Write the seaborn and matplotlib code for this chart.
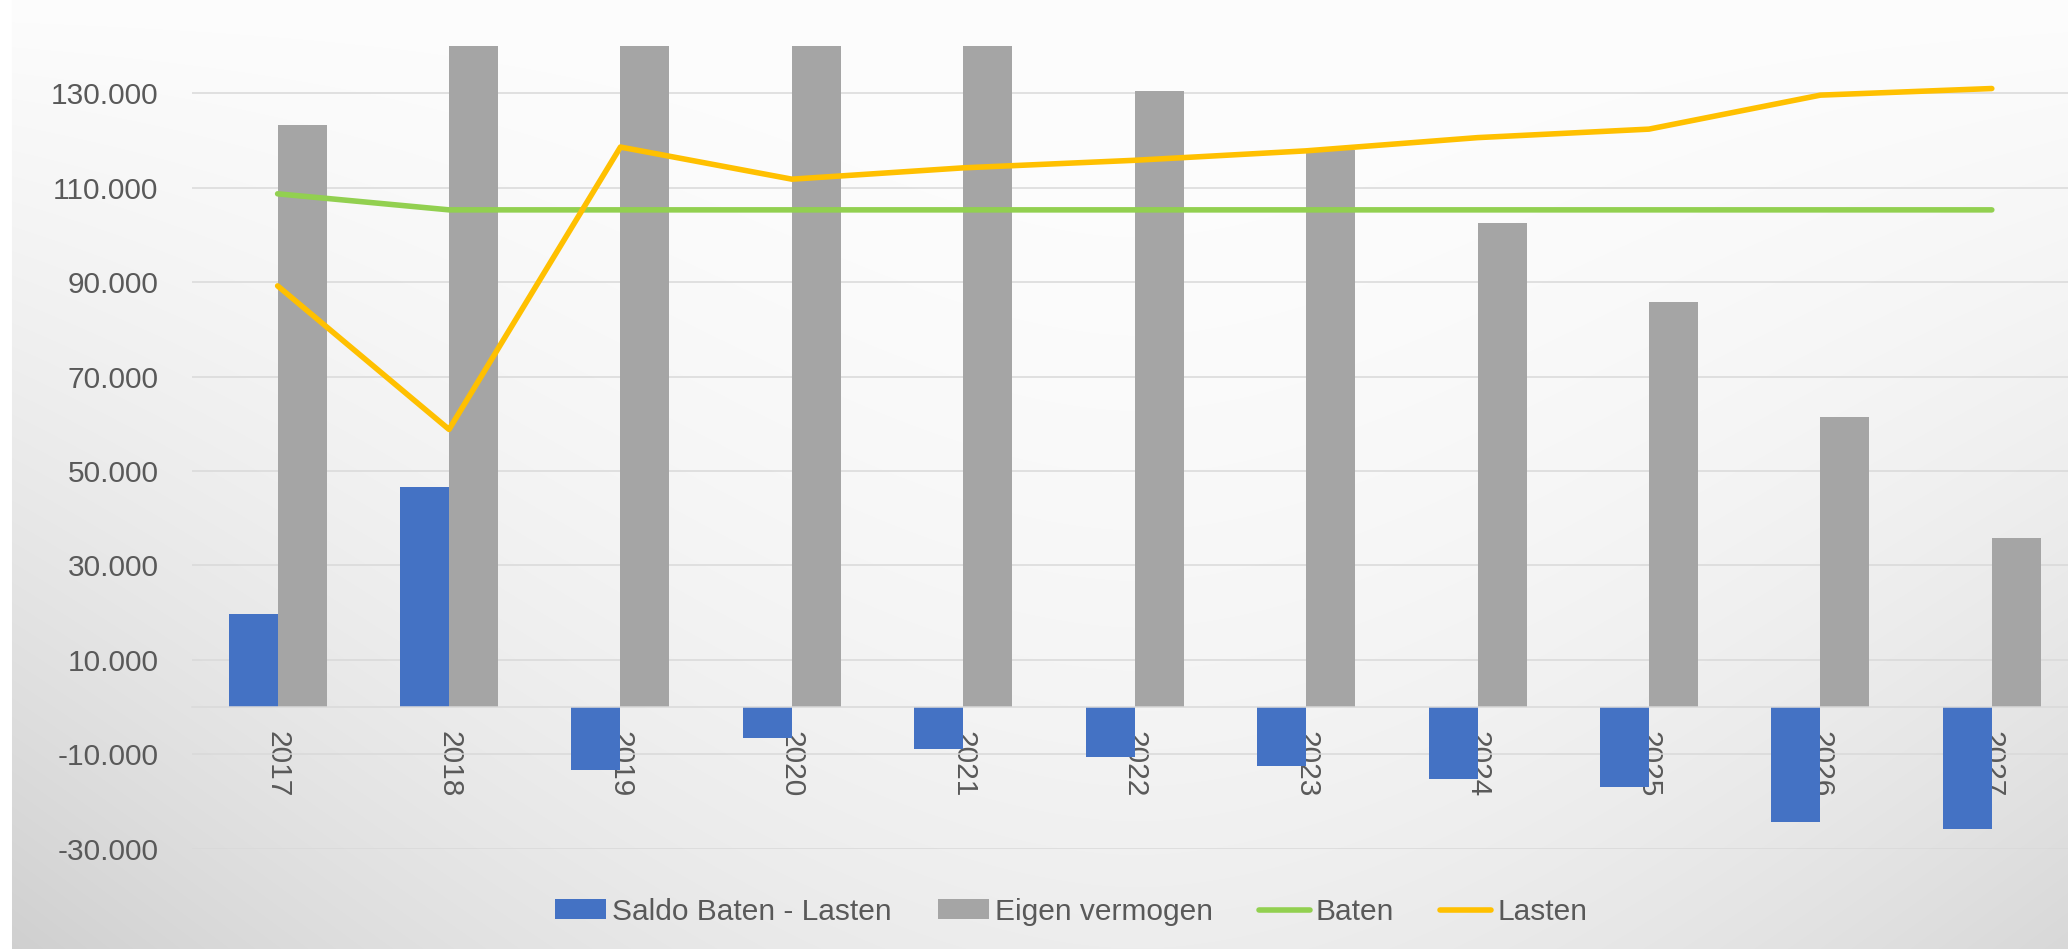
import numpy as np
import pandas as pd
import matplotlib
matplotlib.use("Agg")
import matplotlib.pyplot as plt
import seaborn as sns
from matplotlib import font_manager
from matplotlib.ticker import FuncFormatter
from matplotlib.patches import Patch
from matplotlib.lines import Line2D

# data
jaren = ["2017", "2018", "2019", "2020", "2021", "2022", "2023", "2024", "2025", "2026", "2027"]
saldo = [19800, 46500, -13400, -6500, -8800, -10600, -12400, -15300, -17000, -24300, -25800]
eigen_vermogen = [123300, 169800, 156300, 149800, 141000, 130400, 118000, 102600, 85700, 61500, 35700]
baten = [108700, 105300, 105300, 105300, 105300, 105300, 105300, 105300, 105300, 105300, 105300]
lasten = [89200, 58800, 118600, 111800, 114200, 115800, 117800, 120600, 122400, 129600, 131000]

y_ticks = list(range(-30000, 140000, 20000))

bar_names = ["Saldo Baten - Lasten", "Eigen vermogen"]
line_names = ["Baten", "Lasten"]
kleuren = {"Saldo Baten - Lasten": "#4472C4", "Eigen vermogen": "#A5A5A5",
           "Baten": "#92D050", "Lasten": "#FFC000"}
tekst = "#595959"
grid_kleur = "#D9D9D9"

bars_df = pd.DataFrame({
    "jaar": jaren * 2,
    "waarde": saldo + eigen_vermogen,
    "reeks": [bar_names[0]] * len(jaren) + [bar_names[1]] * len(jaren),
})
lines_df = pd.DataFrame({
    "pos": list(range(len(jaren))) * 2,
    "waarde": baten + lasten,
    "reeks": [line_names[0]] * len(jaren) + [line_names[1]] * len(jaren),
})

sns.set_theme(style="white")
names = {f.name for f in font_manager.fontManager.ttflist}
fam = "Liberation Sans" if "Liberation Sans" in names else "DejaVu Sans"
plt.rcParams["font.family"] = [fam, "DejaVu Sans"]
fs = 21.5
lw = 4.0

fig = plt.figure(figsize=(20.68, 9.49), dpi=100)

# background gradient (white at top, grey towards the lower corners)
H, W = 949, 2068
v = np.linspace(0, 1, H)[:, None]
u = np.linspace(0, 1, W)[None, :]
side = np.clip(np.abs(u - 0.55) / 0.55, 0, 1) ** 1.8
dark = 16 * v ** 2.0 + 30 * v ** 0.9 * side
grey = (253 - dark) / 255.0
grey[:, :12] = 1.0
bg = fig.add_axes([0, 0, 1, 1], zorder=-1)
bg.imshow(np.dstack([grey] * 3), extent=[0, 1, 0, 1], aspect="auto")
bg.axis("off")

ax = fig.add_axes([0.0928, 0.1057, 0.9118, 0.8458])
ax.patch.set_alpha(0)

sns.barplot(data=bars_df, x="jaar", y="waarde", hue="reeks", order=jaren,
            hue_order=bar_names, palette=kleuren, width=0.572, gap=0,
            saturation=1, errorbar=None, linewidth=0, legend=False, ax=ax)
sns.lineplot(data=lines_df, x="pos", y="waarde", hue="reeks", hue_order=line_names,
             palette=kleuren, linewidth=lw, legend=False, ax=ax,
             solid_capstyle="round", solid_joinstyle="round")

ax.set_xlim(-0.5, len(jaren) - 0.5)
ax.set_ylim(-30000, 140000)
ax.set_yticks(y_ticks)
ax.yaxis.set_major_formatter(FuncFormatter(lambda x, p: f"{x:,.0f}".replace(",", ".")))
ax.set_xticks(range(len(jaren)))
ax.set_xticklabels(jaren)
ax.set_xlabel("")
ax.set_ylabel("")

ax.tick_params(axis="y", length=0, labelsize=fs, labelcolor=tekst, pad=24)
ax.tick_params(axis="x", length=0, labelsize=fs, labelcolor=tekst, pad=17.5,
               labelrotation=-90)

for s in ["top", "right", "left"]:
    ax.spines[s].set_visible(False)
ax.spines["bottom"].set_position(("data", 0))
ax.spines["bottom"].set_color(grid_kleur)
ax.spines["bottom"].set_linewidth(1.1)

ax.set_axisbelow(True)
ax.yaxis.grid(True, color=grid_kleur, linewidth=1.1)
ax.xaxis.grid(False)

handles = [Patch(facecolor=kleuren[bar_names[0]], edgecolor="none"),
           Patch(facecolor=kleuren[bar_names[1]], edgecolor="none"),
           Line2D([], [], color=kleuren["Baten"], lw=lw, solid_capstyle="round"),
           Line2D([], [], color=kleuren["Lasten"], lw=lw, solid_capstyle="round")]
fig.legend(handles, bar_names + line_names, loc="center", bbox_to_anchor=(0.518, 0.0393),
           ncol=4, frameon=False, fontsize=fs, handlelength=1.7, handleheight=0.64,
           handletextpad=0.2, columnspacing=1.55, labelcolor=tekst)

fig.savefig("out.png", dpi=100)
